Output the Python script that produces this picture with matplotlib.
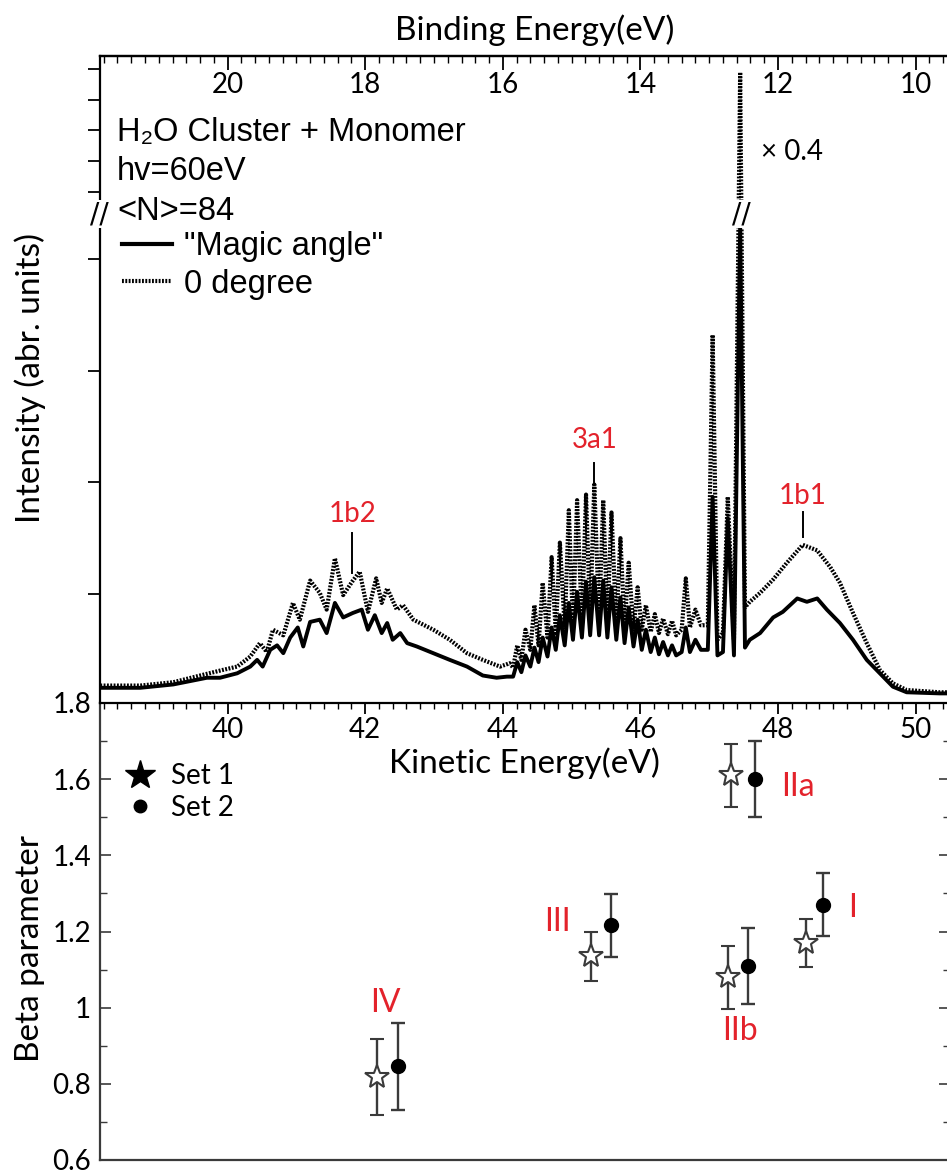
import numpy as np
import matplotlib
matplotlib.use("Agg")
import matplotlib.pyplot as plt
from matplotlib.lines import Line2D
from matplotlib.ticker import MultipleLocator, NullLocator, FuncFormatter
from matplotlib.transforms import blended_transform_factory

plt.rcParams["font.family"] = ["Lato", "DejaVu Sans"]

# ---- photoelectron spectra: kinetic energy (eV) / intensity (arb. units) ----
ke_magic = [38.15, 38.73, 39.21, 39.70, 39.89, 40.14, 40.33, 40.43, 40.51, 40.62,
            40.72, 40.81, 40.91, 41.02, 41.10, 41.20, 41.34, 41.44, 41.56, 41.68,
            41.82, 41.95, 42.04, 42.14, 42.24, 42.32, 42.40, 42.51, 42.61, 42.75,
            42.99, 43.23, 43.48, 43.71, 43.91, 44.06,
            44.15, 44.21, 44.27, 44.33, 44.40, 44.46, 44.52, 44.58, 44.65, 44.71,
            44.77, 44.83, 44.90, 44.96, 45.02, 45.08, 45.15, 45.21, 45.27, 45.33,
            45.40, 45.46, 45.52, 45.58, 45.65, 45.71, 45.77, 45.83, 45.90, 45.96,
            46.02, 46.08, 46.15, 46.21, 46.27, 46.33, 46.40, 46.46, 46.52,
            46.60, 46.66, 46.72, 46.80, 46.88, 46.98, 47.05, 47.12, 47.20, 47.27,
            47.36, 47.45, 47.52, 47.59, 47.74, 47.93, 48.07, 48.28, 48.42, 48.57,
            48.71, 48.90, 49.09, 49.29, 49.48, 49.67, 49.87, 50.35, 50.50]
int_magic = [0.16, 0.16, 0.19, 0.25, 0.25, 0.29, 0.35, 0.41, 0.35, 0.50,
             0.54, 0.47, 0.61, 0.70, 0.53, 0.75, 0.77, 0.65, 0.92, 0.79,
             0.83, 0.86, 0.68, 0.81, 0.65, 0.74, 0.59, 0.65, 0.56, 0.53,
             0.47, 0.41, 0.35, 0.27, 0.25, 0.26,
             0.26, 0.39, 0.30, 0.45, 0.35, 0.52, 0.39, 0.61, 0.44, 0.70,
             0.50, 0.81, 0.54, 0.92, 0.59, 1.02, 0.61, 1.11, 0.63, 1.15,
             0.63, 1.12, 0.61, 1.06, 0.59, 0.97, 0.56, 0.88, 0.53, 0.77,
             0.50, 0.68, 0.48, 0.61, 0.46, 0.57, 0.45, 0.54, 0.45,
             0.48, 0.70, 0.48, 0.59, 0.50, 0.50, 1.87, 0.45, 0.48, 1.68,
             0.45, 4.30, 0.52, 0.59, 0.65, 0.79, 0.84, 0.96, 0.93, 0.96,
             0.86, 0.74, 0.59, 0.41, 0.29, 0.17, 0.12, 0.11, 0.11]

ke_zero = [38.15, 38.73, 39.21, 39.60, 39.93, 40.14, 40.33, 40.47, 40.57, 40.66,
           40.81, 40.95, 41.05, 41.20, 41.34, 41.44, 41.56, 41.68, 41.81, 41.92,
           42.04, 42.16, 42.24, 42.32, 42.46, 42.55, 42.70, 42.99, 43.23, 43.48,
           43.71, 43.96, 44.10,
           44.15, 44.21, 44.27, 44.33, 44.40, 44.46, 44.52, 44.58, 44.65, 44.71,
           44.77, 44.83, 44.90, 44.96, 45.02, 45.08, 45.15, 45.21, 45.27, 45.33,
           45.40, 45.46, 45.52, 45.58, 45.65, 45.71, 45.77, 45.83, 45.90, 45.96,
           46.02, 46.08, 46.15, 46.21, 46.27, 46.33, 46.40, 46.46, 46.52,
           46.60, 46.66, 46.72, 46.80, 46.88, 46.98, 47.05, 47.12, 47.20, 47.27,
           47.36, 47.45, 47.52, 47.59, 47.74, 47.93, 48.13, 48.36, 48.57, 48.76,
           48.90, 49.09, 49.29, 49.48, 49.67, 49.87, 50.35, 50.50]
int_zero = [0.18, 0.18, 0.21, 0.27, 0.32, 0.35, 0.44, 0.56, 0.48, 0.68,
            0.63, 0.92, 0.77, 1.12, 1.01, 0.86, 1.32, 0.99, 1.11, 1.20,
            0.84, 1.14, 0.92, 1.05, 0.86, 0.90, 0.77, 0.68, 0.59, 0.47,
            0.41, 0.35, 0.38,
            0.34, 0.54, 0.41, 0.68, 0.50, 0.90, 0.54, 1.10, 0.61, 1.33,
            0.65, 1.46, 0.70, 1.75, 0.72, 1.84, 0.75, 1.89, 0.77, 1.98,
            0.77, 1.84, 0.75, 1.73, 0.72, 1.50, 0.70, 1.28, 0.68, 1.06,
            0.68, 0.90, 0.66, 0.82, 0.65, 0.78, 0.64, 0.76, 0.63,
            0.68, 1.14, 0.70, 0.86, 0.72, 0.72, 3.32, 0.59, 0.65, 1.87,
            0.59, 8.89, 0.88, 0.93, 1.01, 1.13, 1.28, 1.44, 1.39, 1.24,
            1.10, 0.83, 0.56, 0.32, 0.20, 0.14, 0.12, 0.12]

# ---- beta parameters ----
bands = ["I", "IIa", "IIb", "III", "IV"]
ke_set1 = [48.41, 47.32, 47.27, 45.28, 42.17]
beta_set1 = [1.17, 1.61, 1.08, 1.135, 0.817]
err_set1 = [0.063, 0.083, 0.083, 0.065, 0.10]
ke_set2 = [48.66, 47.66, 47.57, 45.57, 42.48]
beta_set2 = [1.27, 1.60, 1.11, 1.216, 0.846]
err_set2 = [0.083, 0.10, 0.10, 0.083, 0.115]

HV = 60.0
BREAK = 4.45     # y-axis break of the spectrum panel
SQUEEZE = 0.275  # compression above the break
RED = "#e3222b"
GREY = "#3a3a3a"
DOTS = (0, (0.45, 0.35))


def fwd(y):
    y = np.asarray(y, dtype=float)
    return np.where(y <= BREAK, y, BREAK + (y - BREAK) * SQUEEZE)


def inv(d):
    d = np.asarray(d, dtype=float)
    return np.where(d <= BREAK, d, BREAK + (d - BREAK) / SQUEEZE)


def main():
    fig = plt.figure(figsize=(9.47, 11.75), dpi=100)
    left = 99.6 / 947
    width = 950 / 947 - left
    axb = fig.add_axes([left, 1 - 1160 / 1175, width, (1160 - 703) / 1175])
    ax = fig.add_axes([left, 1 - 703 / 1175, width, (703 - 56) / 1175])
    axb.patch.set_visible(False)
    ax.patch.set_visible(False)

    # ---------------- spectrum panel ----------------
    ax.plot(ke_zero, int_zero, color="black", lw=3.0, ls=DOTS)
    ax.plot(ke_magic, int_magic, color="black", lw=2.8)
    ax.set_yscale("function", functions=(fwd, inv))
    ax.set_xlim(38.14, 50.50)
    ax.set_ylim(0.024, 9.42)
    ax.set_yticks([1, 2, 3, 4, 5, 6, 7, 8, 9])
    ax.yaxis.set_minor_locator(NullLocator())
    ax.tick_params(axis="y", direction="out", length=9, width=1.3, labelleft=False)
    ax.xaxis.set_major_locator(MultipleLocator(2))
    ax.xaxis.set_minor_locator(MultipleLocator(0.2))
    ax.tick_params(axis="x", which="major", direction="out", length=8, width=1.3,
                   labelsize=20, pad=2)
    ax.tick_params(axis="x", which="minor", direction="out", length=4, width=1.0)
    for s in ax.spines.values():
        s.set_linewidth(1.6)
    ax.set_xlabel("Kinetic Energy(eV)", fontsize=24, labelpad=3)

    sec = ax.secondary_xaxis("top", functions=(lambda k: HV - k, lambda b: HV - b))
    sec.xaxis.set_major_locator(MultipleLocator(2))
    sec.xaxis.set_minor_locator(MultipleLocator(0.2))
    sec.tick_params(which="major", direction="in", length=10, width=1.3,
                    labelsize=20, pad=-30)
    sec.tick_params(which="minor", direction="in", length=5, width=1.0)
    sec.spines["top"].set_linewidth(1.6)

    fig.text(535 / 947, 1 - 30 / 1175, "Binding Energy(eV)", fontsize=24,
             ha="center", va="center")
    fig.text(30 / 947, 1 - 378 / 1175, "Intensity (abr. units)", fontsize=24,
             rotation=90, ha="center", va="center")

    # legend block
    arial = ["Liberation Sans", "DejaVu Sans"]
    ax.text(0.0205, 0.881, "H\u2082O Cluster + Monomer", transform=ax.transAxes,
            fontsize=23.5, family=arial, va="center")
    ax.text(0.0205, 0.821, "hv=60eV", transform=ax.transAxes,
            fontsize=23.5, family=arial, va="center")
    ax.text(0.0205, 0.759, "<N>=84", transform=ax.transAxes,
            fontsize=23.5, family=arial, va="center")
    h_magic = Line2D([], [], color="black", lw=3.0)
    h_zero = Line2D([], [], color="black", lw=3.0, ls=DOTS)
    ax.legend([h_magic, h_zero], ['"Magic angle"', "0 degree"],
              loc="upper left", bbox_to_anchor=(0.026, 0.729), frameon=False,
              borderpad=0, borderaxespad=0, handlelength=1.55, handletextpad=0.35,
              labelspacing=0.2, prop={"family": arial, "size": 23.5})

    # band labels
    for ke, y0, y1, lab, ytxt in [(41.81, 1.19, 1.55, "1b2", 1.72),
                                  (45.33, 1.98, 2.17, "3a1", 2.38),
                                  (48.36, 1.51, 1.73, "1b1", 1.88)]:
        ax.plot([ke, ke], [y0, y1], color="black", lw=1.4)
        ax.text(ke, ytxt, lab, color=RED, fontsize=20, ha="center", va="center")
    ax.text(48.20, 6.30, "\u00d7 0.4", fontsize=20, ha="center", va="center")

    # break marks
    brk = dict(fontsize=20, ha="center", va="center",
               family=["DejaVu Sans"], clip_on=False,
               bbox=dict(boxstyle="square,pad=0.0", fc="white", ec="none"))
    ax.text(47.47, 4.40, "//", **brk)
    ax.text(0.0, 4.40, "//",
            transform=blended_transform_factory(ax.transAxes, ax.transData), **brk)

    # ---------------- beta panel ----------------
    axb.errorbar(ke_set1, beta_set1, yerr=err_set1, fmt="*", ms=18, mfc="white",
                 mec=GREY, mew=1.5, ecolor=GREY, elinewidth=1.7, capsize=5,
                 capthick=1.7)
    axb.errorbar(ke_set2, beta_set2, yerr=err_set2, fmt="o", ms=10, mfc="black",
                 mec="black", ecolor=GREY, elinewidth=1.7, capsize=5, capthick=1.7)
    axb.set_xlim(38.14, 50.50)
    axb.set_ylim(0.6, 1.8)
    axb.yaxis.set_major_locator(MultipleLocator(0.2))
    axb.yaxis.set_minor_locator(MultipleLocator(0.1))
    axb.yaxis.set_major_formatter(FuncFormatter(lambda v, p: "%g" % round(v, 2)))
    axb.tick_params(axis="y", which="major", direction="in", length=8, width=1.2,
                    labelsize=20, pad=6, right=True, colors=GREY, labelcolor="black")
    axb.tick_params(axis="y", which="minor", direction="in", length=5, width=1.0,
                    right=True, colors=GREY)
    axb.tick_params(axis="x", which="both", bottom=False, labelbottom=False)
    axb.spines["top"].set_visible(False)
    for s in ["left", "bottom", "right"]:
        axb.spines[s].set_linewidth(1.6)
        axb.spines[s].set_color(GREY)
    fig.text(30 / 947, 1 - 949 / 1175, "Beta parameter", fontsize=24,
             rotation=90, ha="center", va="center")

    for lab, x, y in zip(bands, [49.09, 48.29, 47.45, 44.80, 42.29],
                         [1.263, 1.58, 0.94, 1.226, 1.013]):
        axb.text(x, y, lab, color=RED, fontsize=23, ha="center", va="center")

    h1 = Line2D([], [], ls="none", marker="*", ms=22, mfc="black", mec="black")
    h2 = Line2D([], [], ls="none", marker="o", ms=9, mfc="black", mec="black")
    axb.legend([h1, h2], ["Set 1", "Set 2"], loc="upper left",
               bbox_to_anchor=(0.028, 0.868), frameon=False, borderpad=0,
               borderaxespad=0, handlelength=1.2, handletextpad=0.5,
               labelspacing=0.2, fontsize=20)

    fig.savefig("out.png", dpi=100)


if __name__ == "__main__":
    main()
